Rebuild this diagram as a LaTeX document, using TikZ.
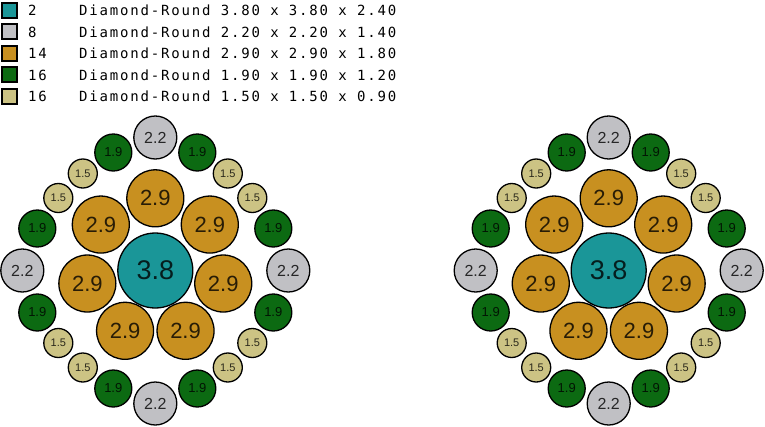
\documentclass[tikz,border=0pt]{standalone}
\usepackage{fontspec}
\setmainfont{Liberation Sans}
\newfontfamily\legendfont[LetterSpace=13]{DejaVu Sans Mono}
\definecolor{tealc}{RGB}{26,150,152}
\definecolor{grayc}{RGB}{192,192,196}
\definecolor{goldc}{RGB}{200,144,32}
\definecolor{greenc}{RGB}{12,106,18}
\definecolor{khakic}{RGB}{204,195,132}

\begin{document}
\begin{tikzpicture}[x=1pt,y=-1pt,
	wire/.style={circle,draw=black,line width=1.3pt,inner sep=0pt,text opacity=0.8},
	d38/.style={wire,fill=tealc,minimum size=75pt,font=\fontsize{27}{27}\selectfont},
	d29/.style={wire,fill=goldc,minimum size=57pt,font=\fontsize{22}{22}\selectfont},
	d22/.style={wire,fill=grayc,minimum size=43pt,font=\fontsize{16}{16}\selectfont},
	d19/.style={wire,fill=greenc,minimum size=37pt,font=\fontsize{13}{13}\selectfont},
	d15/.style={wire,fill=khakic,minimum size=29pt,font=\fontsize{11}{11}\selectfont},
	swatch/.style={draw=black,line width=2pt,minimum size=15pt,inner sep=0pt},
	legtext/.style={anchor=base west,inner sep=0pt,font=\legendfont\fontsize{14}{14}\selectfont}]
\useasboundingbox (0,0) rectangle (765,426);

% legend
\foreach \c/\k/\t [count=\i] in {tealc/2/3.80 x 3.80 x 2.40,grayc/8/2.20 x 2.20 x 1.40,goldc/14/2.90 x 2.90 x 1.80,greenc/16/1.90 x 1.90 x 1.20,khakic/16/1.50 x 1.50 x 0.90}
{
	\pgfmathsetmacro{\yb}{15.7+21.5*(\i-1)}
	\node[swatch,fill=\c] (sw\i) at (9.5,\yb-5.5) {};
	\node[legtext] (cnt\i) at (28,\yb) {\k};
	\node[legtext] (desc\i) at (79,\yb) {Diamond-Round \t};
}

% the two cross sections
\foreach \cx/\nm in {155.3/L,608.7/R}
{
\begin{scope}[shift={(\cx,270.5)}]
	\node[d38] (\nm-core) at (0,0) {3.8};
	\foreach \k in {0,...,6}
		\node[d29] (\nm-mid\k) at ({69.7*cos(270+\k*360/7)},{69.7*sin(270+\k*360/7)-2.5}) {2.9};
	\node[d22] (\nm-n) at (0,-133) {2.2};
	\node[d22] (\nm-s) at (0,133) {2.2};
	\node[d22] (\nm-w) at (-133,0) {2.2};
	\node[d22] (\nm-e) at (133,0) {2.2};
	\foreach \sx/\sy/\q in {1/1/a,-1/1/b,-1/-1/c,1/-1/d}
	{
		\node[d19] (\nm-\q1) at (42*\sx,118*\sy) {1.9};
		\node[d15] (\nm-\q2) at (72.5*\sx,97*\sy) {1.5};
		\node[d15] (\nm-\q3) at (97*\sx,72.5*\sy) {1.5};
		\node[d19] (\nm-\q4) at (118*\sx,42*\sy) {1.9};
	}
\end{scope}
}

\end{tikzpicture}
\end{document}
